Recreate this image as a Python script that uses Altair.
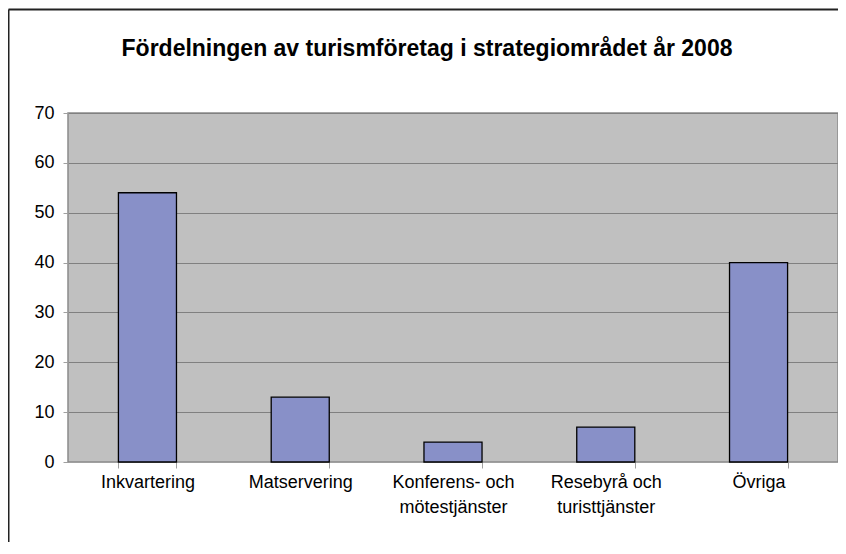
import altair as alt
import pandas as pd

categories = ["Inkvartering", "Matservering", "Konferens- och\nmötestjänster",
              "Resebyrå och\nturisttjänster", "Övriga"]
values = [54, 13, 4, 7, 40]
y_ticks = [0, 10, 20, 30, 40, 50, 60, 70]
title_text = "Fördelningen av turismföretag i strategiområdet år 2008"

df = pd.DataFrame({"kategori": categories, "antal": values})

FONT = "Liberation Sans"

bars = alt.Chart(df).mark_bar(
    color="#8890c8", stroke="#000000", strokeWidth=1.3
).encode(
    x=alt.X("kategori:N", sort=None, title=None,
            scale=alt.Scale(paddingInner=0.62, paddingOuter=0.33),
            axis=alt.Axis(labelAngle=0,
                          labelExpr="isValid(datum.value) ? split(datum.value, '\\n') : ''",
                          labelFontSize=18, labelFont=FONT, labelColor="#000000",
                          labelPadding=5, labelLineHeight=25,
                          tickBand="extent", ticks=True, tickSize=6,
                          tickColor="#a0a0a0", domainColor="#a0a0a0",
                          grid=False)),
    y=alt.Y("antal:Q", title=None,
            scale=alt.Scale(domain=[0, 70], nice=False),
            axis=alt.Axis(values=y_ticks, labelFontSize=18, labelFont=FONT,
                          labelColor="#000000", labelPadding=9,
                          tickSize=5, tickColor="#a0a0a0",
                          domain=False, grid=True, gridColor="#808080",
                          gridWidth=1))
)

frame = pd.DataFrame({"t": [title_text]})
top_border = alt.Chart(frame).mark_rule(color="#222222", strokeWidth=2).encode(
    x=alt.value(-59.5), x2=alt.value(800), y=alt.value(-103.5)
)
left_border = alt.Chart(frame).mark_rule(color="#222222", strokeWidth=2).encode(
    x=alt.value(-59.5), y=alt.value(-103.5), y2=alt.value(500)
)
title_mark = alt.Chart(frame).mark_text(
    font=FONT, fontSize=23, fontWeight="bold", color="#000000",
    align="center", baseline="middle"
).encode(
    text="t:N", x=alt.value(359), y=alt.value(-64)
)

chart = alt.layer(bars, top_border, left_border, title_mark).properties(
    width=770, height=349,
    padding={"left": 60, "top": 105, "right": 0, "bottom": 80},
    autosize=alt.AutoSizeParams(type="none"),
    background="#ffffff",
).configure_view(
    fill="#c0c0c0", stroke="#8a8a8a", strokeWidth=1.5
)

chart.save("out.html", embed_options={"renderer": "svg", "actions": False})
